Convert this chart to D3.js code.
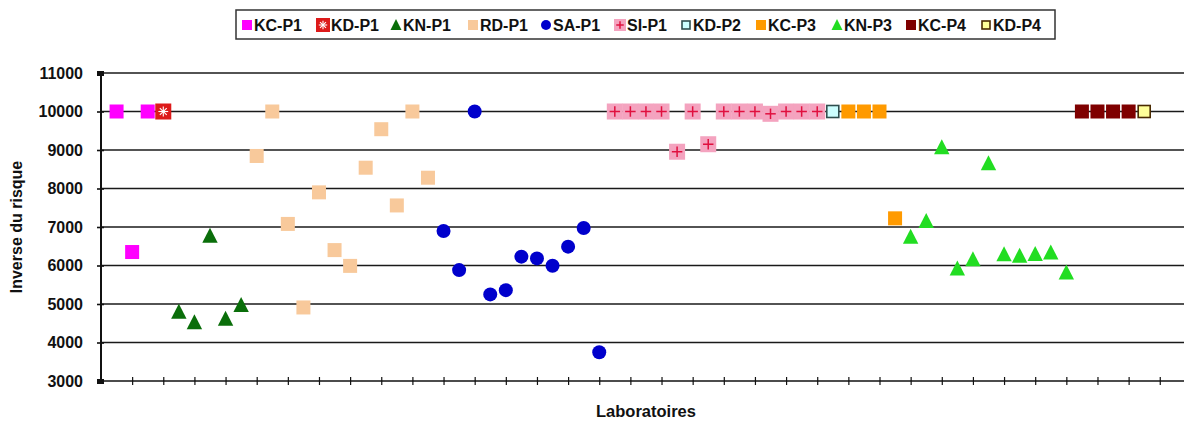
<!DOCTYPE html>
<html>
<head>
<meta charset="utf-8">
<script src="https://cdn.jsdelivr.net/npm/d3@7"></script>
<style>
  html, body { margin: 0; padding: 0; background: #fff; }
  svg { display: block; font-family: "Liberation Sans", Arial, sans-serif; }
</style>
</head>
<body>
<svg id="chart" width="1184" height="421"></svg>
<script>
// Series, in the order the laboratories appear along the x axis
const seriesNames = ["KC-P1", "KD-P1", "KN-P1", "RD-P1", "SA-P1", "SI-P1", "KD-P2", "KC-P3", "KN-P3", "KC-P4", "KD-P4"];

// Inverse du risque, one value per laboratory
const kcP1 = [10000, 6350, 10000];
const kdP1 = [10000];
const knP1 = [4800, 4525, 6770, 4620, 4975];
const rdP1 = [8845, 10000, 7080, 4910, 7900, 6400, 5990, 8540, 9540, 7560, 10000, 8280];
const saP1 = [6895, 5880, 10000, 5250, 5360, 6230, 6185, 5995, 6490, 6975, 3745];
const siP1 = [10000, 10000, 10000, 10000, 8955, 10000, 9150, 10000, 10000, 10000, 9940, 10000, 10000, 10000];
const kdP2 = [10000];
const kcP3 = [10000, 10000, 10000, 7225];
const knP3 = [6750, 7155, 9070, 5925, 6160, 8655, 6290, 6255, 6300, 6340, 5820];
const kcP4 = [10000, 10000, 10000, 10000];
const kdP4 = [10000];

const yTicks = [3000, 4000, 5000, 6000, 7000, 8000, 9000, 10000, 11000];
const xTitle = "Laboratoires";
const yTitle = "Inverse du risque";

const seriesValues = [kcP1, kdP1, knP1, rdP1, saP1, siP1, kdP2, kcP3, knP3, kcP4, kdP4];

// Marker styles
const styles = {
  "KC-P1": { shape: "square", fill: "#ff00ff" },
  "KD-P1": { shape: "star",   fill: "#dd1a1a" },
  "KN-P1": { shape: "tri",    fill: "#0a6e0a" },
  "RD-P1": { shape: "square", fill: "#f8c99b" },
  "SA-P1": { shape: "circle", fill: "#0000cc" },
  "SI-P1": { shape: "plus",   fill: "#f4a3bf", mark: "#e0103f" },
  "KD-P2": { shape: "outline", fill: "#ccffff", stroke: "#2f4f4f" },
  "KC-P3": { shape: "square", fill: "#ff9a00" },
  "KN-P3": { shape: "tri",    fill: "#22dd22" },
  "KC-P4": { shape: "square", fill: "#7f0000" },
  "KD-P4": { shape: "outline", fill: "#ffff99", stroke: "#4a2a00" }
};

// Flatten into points, numbering the laboratories 1..N
const points = [];
let lab = 1;
seriesNames.forEach((name, si) => {
  seriesValues[si].forEach(v => { points.push({ series: name, lab: lab++, value: v }); });
});

const svg = d3.select("#chart");
const plotLeft = 101, plotTop = 73, plotBottom = 381;
const step = 15.57;
const xMax = 70;
const fontFamily = "'Liberation Sans', Arial, sans-serif";

const x = d3.scaleLinear().domain([0, xMax]).range([plotLeft, plotLeft + xMax * step]);
const y = d3.scaleLinear().domain([3000, 11000]).range([plotBottom, plotTop]);

// Horizontal gridlines
svg.append("g").selectAll("line").data(yTicks.slice(1)).join("line")
  .attr("x1", plotLeft).attr("x2", 1184)
  .attr("y1", d => y(d)).attr("y2", d => y(d))
  .attr("stroke", "#1a1a1a").attr("stroke-width", 1.6);

// X axis with a tick every two laboratories
const xAxis = d3.axisBottom(x).tickValues(d3.range(2, xMax + 1, 2)).tickSize(4).tickFormat("");
const gx = svg.append("g").attr("transform", `translate(0,${plotBottom})`).call(xAxis);
gx.select(".domain").attr("stroke", "#111").attr("stroke-width", 1.6).attr("d", `M${plotLeft},0H1184`);
gx.selectAll(".tick line").attr("stroke", "#111").attr("stroke-width", 1.2).attr("y1", -4).attr("y2", 4);

// Y axis
const yAxis = d3.axisLeft(y).tickValues(yTicks).tickSize(4).tickPadding(14).tickFormat(d3.format("d"));
const gy = svg.append("g").attr("transform", `translate(${plotLeft},0)`).call(yAxis);
gy.select(".domain").attr("stroke", "#111").attr("stroke-width", 2).attr("d", `M0,${plotTop}V${plotBottom}`);
gy.selectAll(".tick line").attr("stroke", "#111").attr("stroke-width", 1.6).attr("x1", 3).attr("x2", -4);
gy.selectAll(".tick").filter(d => d === 3000 || d === 11000).select("line")
  .attr("stroke-width", 5).attr("x1", 3).attr("x2", -4);
gy.selectAll(".tick text")
  .attr("font-size", 16).attr("font-weight", "bold").attr("fill", "#111")
  .attr("font-family", fontFamily);

// Axis titles
svg.append("text").text(yTitle)
  .attr("transform", `translate(22,${(plotTop + plotBottom) / 2}) rotate(-90)`)
  .attr("text-anchor", "middle").attr("font-size", 16).attr("font-weight", "bold").attr("fill", "#111");
svg.append("text").text(xTitle)
  .attr("x", 646).attr("y", 417)
  .attr("text-anchor", "middle").attr("font-size", 16.5).attr("font-weight", "bold").attr("fill", "#111");

// Marker drawing
function drawMarker(g, name, size) {
  const s = styles[name];
  const h = size / 2;
  if (s.shape === "square") {
    g.append("rect").attr("x", -h).attr("y", -h).attr("width", size).attr("height", size).attr("fill", s.fill);
  } else if (s.shape === "outline") {
    g.append("rect").attr("x", -h + 1).attr("y", -h + 1).attr("width", size - 2).attr("height", size - 2)
      .attr("fill", s.fill).attr("stroke", s.stroke).attr("stroke-width", 1.6);
  } else if (s.shape === "star") {
    g.append("rect").attr("x", -h - 1).attr("y", -h - 1).attr("width", size + 2).attr("height", size + 2).attr("fill", s.fill);
    const r = h * 0.7;
    [0, 45, 90, 135].forEach(a => {
      const rad = a * Math.PI / 180;
      g.append("line").attr("x1", -r * Math.sin(rad)).attr("y1", -r * Math.cos(rad))
        .attr("x2", r * Math.sin(rad)).attr("y2", r * Math.cos(rad))
        .attr("stroke", "#fff").attr("stroke-width", 1.1);
    });
  } else if (s.shape === "plus") {
    g.append("rect").attr("x", -h - 1).attr("y", -h - 1).attr("width", size + 2).attr("height", size + 2).attr("fill", s.fill);
    const r = h * 0.75;
    g.append("line").attr("x1", -r).attr("x2", r).attr("y1", 0).attr("y2", 0).attr("stroke", s.mark).attr("stroke-width", 1.5);
    g.append("line").attr("y1", -r).attr("y2", r).attr("x1", 0).attr("x2", 0).attr("stroke", s.mark).attr("stroke-width", 1.5);
  } else if (s.shape === "circle") {
    g.append("circle").attr("r", h).attr("fill", s.fill);
  } else if (s.shape === "tri") {
    const w = h * 1.1;
    g.append("path").attr("d", `M0,${-h - 1}L${w},${h}L${-w},${h}Z`).attr("fill", s.fill);
  }
}

// Points
svg.append("g").selectAll("g").data(points).join("g")
  .attr("transform", d => `translate(${x(d.lab)},${y(d.value)})`)
  .each(function (d) { drawMarker(d3.select(this), d.series, 14); });

// Legend
const legendX = [242, 316, 391, 468, 541, 615, 681, 756, 832, 906, 981];
const legend = svg.append("g");
legend.append("rect").attr("x", 236).attr("y", 10).attr("width", 819).attr("height", 29)
  .attr("fill", "#fff").attr("stroke", "#333").attr("stroke-width", 1.5);
const items = legend.selectAll("g.item").data(seriesNames).join("g").attr("class", "item")
  .attr("transform", (d, i) => `translate(${legendX[i]},25)`);
items.each(function (d) {
  const big = d === "KD-P1";
  const g = d3.select(this).append("g").attr("transform", `translate(${big ? 7 : 5},0)`);
  drawMarker(g, d, big ? 12 : 10);
});
items.append("text").text(d => d)
  .attr("x", d => d === "KD-P1" ? 15 : 12).attr("y", 6)
  .attr("font-size", 16).attr("font-weight", "bold").attr("fill", "#111");
</script>
</body>
</html>
